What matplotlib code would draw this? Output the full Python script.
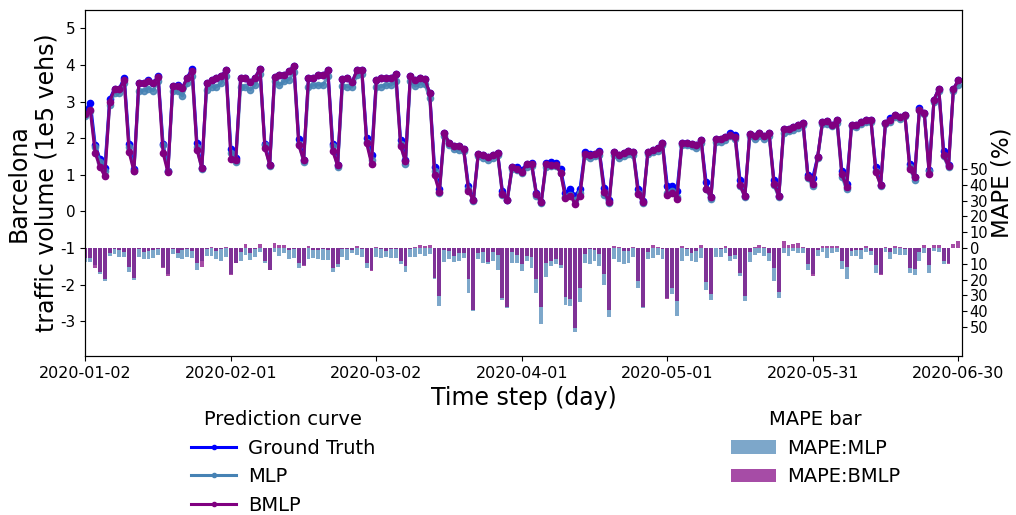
import matplotlib
matplotlib.use("Agg")
import matplotlib.pyplot as plt
from matplotlib.patches import Patch
from matplotlib.lines import Line2D
import pandas as pd

plt.rcParams['axes.unicode_minus'] = False

start_date = "2020-01-02"
end_date = "2020-06-30"
tick_labels = ["2020-01-02", "2020-02-01", "2020-03-02", "2020-04-01",
               "2020-05-01", "2020-05-31", "2020-06-30"]

# Daily traffic volume (1e5 vehicles)
ground_truth = [
    2.75, 2.97, 1.82, 1.42, 1.18, 3.06, 3.35, 3.35, 3.65, 1.85,
    1.15, 3.50, 3.51, 3.60, 3.51, 3.69, 1.85, 1.10, 3.43, 3.45,
    3.37, 3.65, 3.90, 1.86, 1.19, 3.50, 3.58, 3.65, 3.69, 3.85,
    1.71, 1.45, 3.63, 3.65, 3.53, 3.65, 3.90, 1.85, 1.28, 3.67,
    3.72, 3.72, 3.83, 3.97, 1.98, 1.41, 3.65, 3.63, 3.72, 3.72,
    3.85, 1.85, 1.26, 3.61, 3.65, 3.53, 3.85, 3.87, 2.00, 1.53,
    3.60, 3.63, 3.65, 3.63, 3.76, 1.94, 1.40, 3.69, 3.58, 3.63,
    3.61, 3.23, 1.20, 0.60, 2.14, 1.86, 1.78, 1.78, 1.71, 0.70,
    0.30, 1.56, 1.53, 1.49, 1.53, 1.60, 0.55, 0.32, 1.21, 1.20,
    1.12, 1.30, 1.32, 0.50, 0.25, 1.32, 1.35, 1.33, 1.15, 0.50,
    0.61, 0.43, 0.61, 1.62, 1.58, 1.58, 1.64, 0.65, 0.30, 1.62,
    1.55, 1.60, 1.65, 1.61, 0.62, 0.28, 1.62, 1.68, 1.72, 1.87,
    0.70, 0.70, 0.57, 1.86, 1.88, 1.84, 1.81, 1.94, 0.80, 0.39,
    1.99, 1.97, 2.03, 2.15, 2.08, 0.85, 0.41, 2.12, 2.05, 2.13,
    2.05, 2.13, 0.85, 0.42, 2.24, 2.26, 2.30, 2.35, 2.42, 1.00,
    0.92, 1.48, 2.44, 2.46, 2.35, 2.49, 1.10, 0.75, 2.37, 2.35,
    2.44, 2.49, 2.50, 1.20, 0.73, 2.42, 2.55, 2.64, 2.58, 2.64,
    1.30, 0.94, 2.83, 2.69, 1.13, 3.05, 3.35, 1.65, 1.28, 3.33,
    3.58,
]

mlp_pred = [
    2.60, 2.75, 1.75, 1.35, 1.10, 2.91, 3.23, 3.23, 3.50, 1.75,
    1.10, 3.28, 3.30, 3.35, 3.30, 3.55, 1.80, 1.10, 3.28, 3.28,
    3.15, 3.50, 3.70, 1.75, 1.15, 3.32, 3.40, 3.40, 3.50, 3.70,
    1.60, 1.35, 3.40, 3.40, 3.32, 3.45, 3.75, 1.80, 1.25, 3.55,
    3.45, 3.55, 3.60, 3.80, 1.85, 1.35, 3.40, 3.45, 3.45, 3.45,
    3.70, 1.78, 1.20, 3.42, 3.40, 3.40, 3.72, 3.75, 1.90, 1.40,
    3.40, 3.40, 3.45, 3.45, 3.55, 1.85, 1.30, 3.55, 3.42, 3.48,
    3.48, 3.10, 1.10, 0.50, 2.05, 1.80, 1.70, 1.68, 1.65, 0.60,
    0.28, 1.50, 1.47, 1.40, 1.47, 1.55, 0.45, 0.30, 1.15, 1.12,
    1.05, 1.22, 1.25, 0.42, 0.22, 1.22, 1.25, 1.25, 1.05, 0.40,
    0.45, 0.30, 0.50, 1.50, 1.45, 1.50, 1.55, 0.45, 0.22, 1.55,
    1.45, 1.52, 1.56, 1.55, 0.50, 0.22, 1.57, 1.62, 1.65, 1.80,
    0.50, 0.55, 0.40, 1.80, 1.80, 1.78, 1.72, 1.88, 0.60, 0.35,
    1.90, 1.90, 1.95, 2.05, 1.98, 0.70, 0.38, 2.05, 1.98, 2.05,
    1.98, 2.07, 0.72, 0.38, 2.15, 2.20, 2.22, 2.28, 2.35, 0.90,
    0.70, 1.45, 2.38, 2.38, 2.32, 2.42, 0.95, 0.60, 2.32, 2.30,
    2.38, 2.45, 2.45, 1.10, 0.70, 2.38, 2.45, 2.58, 2.52, 2.60,
    1.20, 0.85, 2.78, 2.65, 1.10, 3.00, 3.30, 1.50, 1.20, 3.28,
    3.45,
]

bmlp_pred = [
    2.65, 2.77, 1.60, 1.21, 0.96, 2.99, 3.35, 3.35, 3.58, 1.62,
    1.10, 3.50, 3.51, 3.55, 3.51, 3.66, 1.60, 1.07, 3.43, 3.42,
    3.37, 3.65, 3.84, 1.68, 1.19, 3.50, 3.58, 3.65, 3.69, 3.85,
    1.44, 1.39, 3.63, 3.65, 3.53, 3.65, 3.90, 1.73, 1.28, 3.67,
    3.72, 3.72, 3.83, 3.97, 1.80, 1.41, 3.65, 3.63, 3.72, 3.72,
    3.85, 1.64, 1.26, 3.61, 3.65, 3.53, 3.85, 3.87, 1.86, 1.30,
    3.60, 3.63, 3.65, 3.63, 3.76, 1.78, 1.37, 3.69, 3.58, 3.63,
    3.61, 3.23, 0.98, 0.53, 2.14, 1.86, 1.78, 1.78, 1.71, 0.57,
    0.30, 1.56, 1.53, 1.49, 1.53, 1.60, 0.48, 0.32, 1.21, 1.17,
    1.07, 1.30, 1.30, 0.48, 0.25, 1.30, 1.26, 1.26, 1.06, 0.36,
    0.43, 0.21, 0.43, 1.58, 1.53, 1.58, 1.61, 0.53, 0.25, 1.62,
    1.53, 1.60, 1.64, 1.61, 0.48, 0.25, 1.62, 1.68, 1.72, 1.86,
    0.46, 0.51, 0.35, 1.86, 1.88, 1.84, 1.81, 1.94, 0.62, 0.39,
    1.99, 1.97, 2.03, 2.08, 2.03, 0.71, 0.41, 2.12, 2.05, 2.13,
    2.05, 2.13, 0.76, 0.42, 2.24, 2.26, 2.30, 2.35, 2.42, 0.94,
    0.76, 1.48, 2.44, 2.46, 2.35, 2.49, 1.01, 0.66, 2.37, 2.35,
    2.44, 2.49, 2.50, 1.07, 0.73, 2.42, 2.50, 2.64, 2.58, 2.64,
    1.17, 0.94, 2.78, 2.69, 1.03, 3.05, 3.35, 1.53, 1.23, 3.33,
    3.58,
]

# Daily MAPE (%) of each model; negative entries are drawn above the zero line
mape_mlp = [
    8.6, 8.6, 10.8, 16.5, 20.7, 5.1, 3.8, 5.5, 5.5, 15.0,
    20.0, 5.5, 6.8, 6.8, 6.1, 4.2, 12.2, 16.5, 3.6, 6.1,
    6.8, 5.7, 6.1, 13.7, 8.2, 4.9, 4.9, 6.8, 8.0, 5.5,
    16.2, 9.3, 8.0, 4.2, 7.4, 5.5, 2.3, 9.5, 14.1, 2.3,
    4.9, 3.0, 6.8, 6.1, 12.4, 10.8, 6.8, 6.1, 6.8, 7.4,
    7.4, 15.0, 11.8, 5.5, 7.4, 3.0, 4.2, 5.5, 12.4, 14.0,
    5.5, 6.1, 5.5, 6.1, 6.1, 9.9, 15.0, 5.5, 5.5, 3.6,
    4.9, 3.6, 19.4, 36.5, 8.6, 6.8, 8.6, 8.0, 6.1, 28.3,
    39.7, 6.8, 9.3, 9.9, 8.0, 13.7, 32.7, 37.8, 9.3, 9.3,
    14.3, 8.0, 12.4, 28.3, 47.9, 18.1, 11.2, 9.9, 12.4, 35.9,
    36.5, 53.0, 34.0, 9.3, 9.9, 8.0, 11.2, 23.2, 43.5, 6.8,
    8.6, 9.9, 9.3, 5.5, 25.1, 37.8, 6.8, 6.1, 4.2, 6.8,
    31.4, 28.9, 42.8, 8.0, 4.9, 8.0, 8.6, 6.1, 26.4, 32.7,
    5.5, 5.5, 3.0, 8.0, 6.8, 17.5, 33.3, 8.6, 4.2, 3.0,
    4.9, 8.0, 20.7, 31.4, 3.0, 4.9, 1.7, 3.0, 3.0, 13.7,
    16.2, 4.9, 2.3, 6.1, 3.0, 2.3, 13.1, 19.4, 4.9, 4.9,
    6.8, 2.3, 4.2, 15.6, 16.5, 2.3, 6.8, 3.6, 4.2, 4.2,
    15.6, 16.9, 8.0, 3.0, 15.6, 1.7, 2.3, 9.9, 9.5, 0.0,
    0.0,
]

mape_bmlp = [
    6.3, 6.3, 12.7, 15.2, 19.4, 3.2, 0.5, 1.3, 2.3, 11.8,
    19.0, 0.4, 2.3, 1.7, 1.3, 0.4, 12.4, 17.5, 0.4, 3.0,
    1.3, 0.4, 1.7, 9.5, 11.8, 0.4, -0.6, 1.7, 0.4, -0.6,
    17.0, 9.5, 2.3, -2.5, 3.2, 0.4, -2.5, 8.2, 13.9, -3.2,
    -1.9, -1.9, 1.3, 0.4, 9.5, 11.2, -1.3, 1.3, 1.3, 0.4,
    1.3, 12.4, 10.1, 0.4, 0.4, 1.3, -1.3, 0.4, 9.5, 14.3,
    -0.6, 0.4, 1.7, 0.4, 0.4, 8.2, 11.4, 0.4, -0.6, -1.9,
    -1.3, -1.9, 19.0, 30.2, 1.3, 1.7, 5.1, 3.2, 3.2, 19.4,
    39.0, 3.2, 2.3, 8.6, 2.3, 4.2, 31.4, 37.3, 2.3, 4.2,
    9.9, 4.9, 5.5, 19.4, 37.3, 9.3, 8.0, 6.8, 10.5, 30.8,
    32.1, 50.4, 25.1, 3.6, 0.4, 1.3, 3.6, 16.2, 39.0, -1.3,
    -0.6, 1.7, 1.7, -0.6, 20.7, 37.3, 2.3, -1.9, -0.6, 0.4,
    32.1, 25.3, 33.5, -1.3, 0.4, 3.0, 1.7, -1.9, 21.3, 29.1,
    0.2, 0.4, -1.3, 5.1, 4.2, 15.8, 30.2, 2.5, -0.6, -1.9,
    -0.6, 3.0, 12.4, 27.6, -4.4, -1.9, -2.5, -3.2, -0.6, 9.9,
    17.5, 1.3, -1.3, -1.3, -1.3, -1.3, 8.0, 11.8, 1.7, 1.3,
    1.3, -1.3, 1.7, 10.5, 17.0, -0.6, 2.3, -1.3, -0.6, 0.4,
    12.4, 13.1, 2.3, -1.9, 10.5, -1.9, -1.9, 8.0, 9.9, -2.5,
    -4.4,
]

dates = pd.date_range(start_date, end_date, freq="D")
tick_dates = pd.to_datetime(tick_labels)

fig = plt.figure(figsize=(10.16, 5.15), dpi=100)
ax = fig.add_axes([0.0837, 0.3087, 0.8632, 0.6719])

line_kw = dict(marker="o", markersize=4.5, linewidth=2.2)
ax.plot(dates, ground_truth, color="blue", label="Ground Truth", **line_kw)
ax.plot(dates, mlp_pred, color="steelblue", alpha=0.85, label="MLP", **line_kw)
ax.plot(dates, bmlp_pred, color="purple", label="BMLP", **line_kw)

ax.set_ylim(-3.95, 5.5)
ax.set_yticks([5, 4, 3, 2, 1, 0, -1, -2, -3])
ax.set_xlim(dates[0] - pd.Timedelta(hours=2), dates[-1] + pd.Timedelta(hours=19))
ax.set_xticks(tick_dates)
ax.set_xticklabels(tick_labels)
ax.tick_params(axis="x", labelsize=11.5)
ax.tick_params(axis="y", labelsize=11)
ax.set_ylabel("Barcelona\ntraffic volume (1e5 vehs)", fontsize=17)
ax.yaxis.set_label_coords(-0.03, 0.5)
ax.set_xlabel("Time step (day)", fontsize=17)

# MAPE bars on a twin axis, growing downward from the -1 level
ax2 = ax.twinx()
ax2.bar(dates, mape_mlp, width=0.8, color="steelblue", alpha=0.7)
ax2.bar(dates, mape_bmlp, width=0.8, color="purple", alpha=0.7)
ax2.set_ylim(68.3, -150.6)
mape_ticks = [-50, -40, -30, -20, -10, 0, 10, 20, 30, 40, 50]
ax2.set_yticks(mape_ticks)
ax2.set_yticklabels([str(abs(t)) for t in mape_ticks])
ax2.tick_params(axis="y", labelsize=10.5, pad=2)
ax2.set_ylabel("MAPE (%)", fontsize=16.5)
ax2.yaxis.set_label_coords(1.033, 0.5)
ax2.set_xlim(ax.get_xlim())

curve_handles = [
    Line2D([], [], color="blue", marker="o", markersize=3, linewidth=2.2),
    Line2D([], [], color="steelblue", marker="o", markersize=3, linewidth=2.2),
    Line2D([], [], color="purple", marker="o", markersize=3, linewidth=2.2),
]
leg1 = ax.legend(curve_handles, ["Ground Truth", "MLP", "BMLP"],
                 title="Prediction curve", loc="upper center",
                 bbox_to_anchor=(0.226, -0.105), frameon=False,
                 fontsize=14, title_fontsize=14, handlelength=2.3,
                 handletextpad=0.6)

bar_handles = [
    Patch(facecolor="steelblue", alpha=0.7),
    Patch(facecolor="purple", alpha=0.7),
]
leg2 = ax2.legend(bar_handles, ["MAPE:MLP", "MAPE:BMLP"],
                  title="MAPE bar", loc="upper center",
                  bbox_to_anchor=(0.833, -0.105), frameon=False,
                  fontsize=14, title_fontsize=14, handlelength=2.3,
                  handletextpad=0.6)

fig.savefig("out.png", dpi=100)
